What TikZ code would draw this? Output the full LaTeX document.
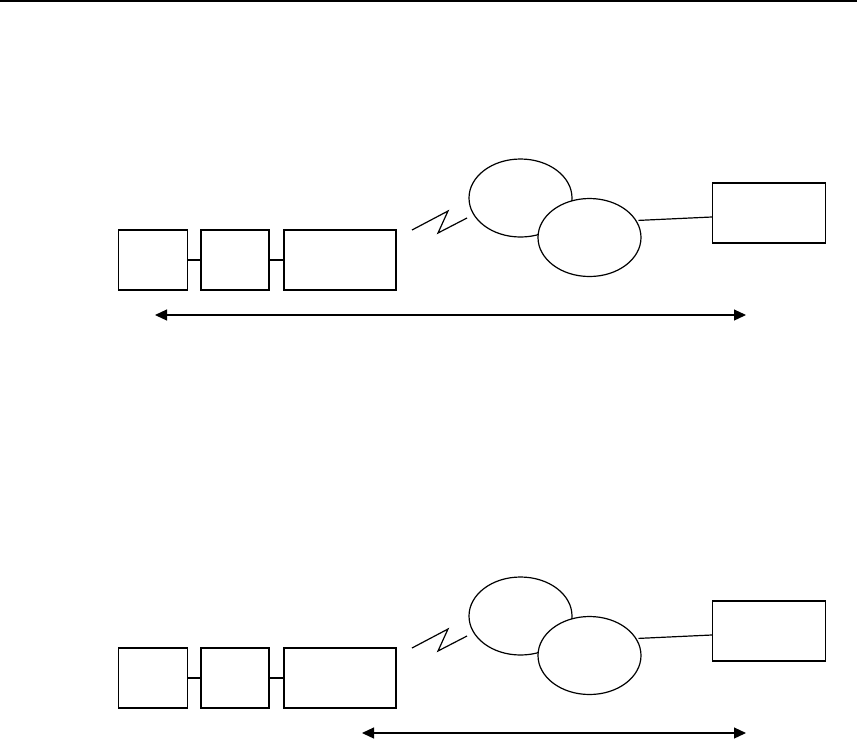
\documentclass[tikz,border=0pt]{standalone}
\usetikzlibrary{arrows.meta,positioning,shapes.geometric}
\tikzset{
  blk/.style  ={draw,line width=1.7pt,fill=white,inner sep=0pt,
                minimum height=60pt},
  cld/.style  ={draw,ellipse,line width=1.2pt,fill=white,inner sep=0pt,
                minimum width=103pt,minimum height=78pt},
  ln/.style   ={line width=1.2pt},
  ar/.style   ={{Triangle[length=12pt,width=11pt]}-{Triangle[length=12pt,width=11pt]},
                line width=1.2pt},
}

\begin{document}
\begin{tikzpicture}[x=1pt,y=-1pt]
\useasboundingbox (0,0) rectangle (857,740);
\draw[line width=2.2pt] (0,1) -- (857,1);

% upper chain
\node[blk,minimum width=69pt] (A1) at (153,260) {};
\node[blk,minimum width=68pt,right=12pt of A1] (B1) {};
\node[blk,minimum width=112pt,right=13pt of B1] (C1) {};
\node[cld] (N1) at (520.5,198) {};
\node[cld] (M1) at (589.5,237.5) {};
\node[blk,line width=1.4pt,minimum width=113pt] (D1) at (769,213) {};
\draw[ln] (412,230) -- (448,211) -- (438,233) -- (467,218);

\draw[ln] (A1) -- (B1);
\draw[ln] (B1) -- (C1);
\draw[ln] ([xshift=2pt]M1.20) -- ([yshift=-4pt]D1.west);

\coordinate (L1) at (155,315);
\coordinate (R1) at (746,315);
\draw[ar] (L1) -- (R1);

% lower chain
\node[blk,minimum width=69pt] (A2) at (153,678) {};
\node[blk,minimum width=68pt,right=12pt of A2] (B2) {};
\node[blk,minimum width=112pt,right=13pt of B2] (C2) {};
\node[cld] (N2) at (520.5,616) {};
\node[cld] (M2) at (589.5,655.5) {};
\node[blk,line width=1.4pt,minimum width=113pt] (D2) at (769,631) {};
\draw[ln] (412,648) -- (448,629) -- (438,651) -- (467,636);

\draw[ln] (A2) -- (B2);
\draw[ln] (B2) -- (C2);
\draw[ln] ([xshift=2pt]M2.20) -- ([yshift=-4pt]D2.west);

\coordinate (L2) at (362,733);
\coordinate (R2) at (746,733);
\draw[ar] (L2) -- (R2);
\end{tikzpicture}
\end{document}
